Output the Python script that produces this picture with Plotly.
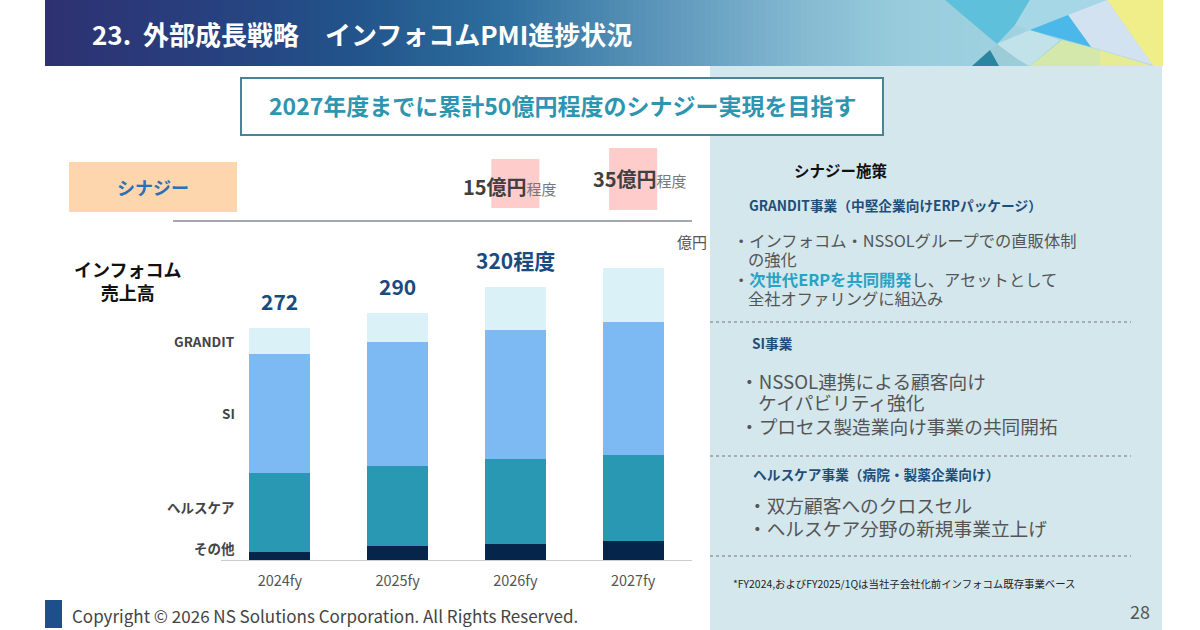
import plotly.graph_objects as go

# data
years = ["2024fy", "2025fy", "2026fy", "2027fy"]
other = [9, 17, 19, 22]
healthcare = [93, 93, 100, 101]
si = [140, 146, 151, 156]
grandit = [30, 34, 50, 64]
total_labels = ["272", "290", "320程度", ""]
synergy_vals = [None, None, "15", "35"]
segment_names = ["その他", "ヘルスケア", "SI", "GRANDIT"]

FONT = "Noto Sans CJK JP"
W, H = 1200, 630


def px(x):
    return x / W


def py(y):
    return 1 - y / H


fig = go.Figure()
colors = ["#05264A", "#2898B3", "#7DBAF4", "#DAF1F7"]
for name, vals, c in zip(segment_names, [other, healthcare, si, grandit], colors):
    fig.add_trace(go.Bar(x=years, y=vals, name=name, marker_color=c,
                         marker_line_width=0, hoverinfo="y+name"))

shapes = []
ann = []


def note(t, x, y, size, color, xanchor="center", xref="paper", yref="paper", **kw):
    ann.append(dict(text=t, x=x, y=y, xref=xref, yref=yref, xanchor=xanchor, yanchor="middle",
                    showarrow=False, font=dict(family=FONT, size=size, color=color), **kw))


# header gradient
stops = [(45, (46, 49, 113)), (200, (40, 63, 126)), (350, (34, 83, 138)),
         (500, (45, 110, 158)), (650, (89, 147, 184)), (800, (132, 185, 209)),
         (900, (152, 204, 220)), (1163, (170, 218, 230))]


def grad(x):
    for (x0, c0), (x1, c1) in zip(stops[:-1], stops[1:]):
        if x0 <= x <= x1:
            t = (x - x0) / (x1 - x0)
            return "rgb(%d,%d,%d)" % tuple(round(a + (b - a) * t) for a, b in zip(c0, c1))
    return "rgb(170,218,230)"


for x in range(45, 1163, 6):
    shapes.append(dict(type="rect", xref="paper", yref="paper", x0=px(x), x1=px(min(x + 7, 1163)),
                       y0=py(66), y1=py(0), fillcolor=grad(x + 3), line_width=0, layer="below"))


def poly(pts, color, opacity=1):
    path = "M " + " L ".join("%f,%f" % (px(a), py(b)) for a, b in pts) + " Z"
    shapes.append(dict(type="path", xref="paper", yref="paper", path=path,
                       fillcolor=color, line_width=0, opacity=opacity, layer="below"))


# header decoration on the right
poly([(945, 0), (1030, 0), (1015, 25), (997, 44)], "#5FC0DC")
poly([(1030, 0), (1107, 0), (1030, 30), (1015, 25)], "#A6D7E6")
poly([(997, 44), (1030, 30), (1060, 40), (1030, 66), (1010, 55)], "#C2E2EA")
poly([(1107, 0), (1163, 0), (1163, 66), (1153, 66)], "#EFEE88")
poly([(1030, 66), (1062, 40), (1100, 50), (1100, 66)], "#D3E8AA")
poly([(1100, 50), (1153, 66), (1100, 66)], "#E6EC96")
poly([(1068, 15), (1107, 0), (1153, 65), (1091, 47)], "#D2E2F0")
poly([(1030, 30), (1068, 15), (1091, 47)], "#4AB8E8")
poly([(972, 66), (997, 44), (1027, 66)], "#9CCCD8")
poly([(972, 66), (990, 50), (999, 66)], "#2A86A0")

note("<b>23.  外部成長戦略　インフォコムPMI進捗状況</b>", px(90), py(33), 26, "white", "left")

# right panel
shapes.append(dict(type="rect", xref="paper", yref="paper", x0=px(710), x1=px(1162),
                   y0=0, y1=py(66), fillcolor="#D4E7ED", line_width=0, layer="below"))
for yy in [322, 456, 556]:
    shapes.append(dict(type="line", xref="paper", yref="paper", x0=px(710), x1=px(1131),
                       y0=py(yy), y1=py(yy), line=dict(color="#777777", width=1, dash="dot")))

# headline box
shapes.append(dict(type="rect", xref="paper", yref="paper", x0=px(241), x1=px(883),
                   y0=py(135), y1=py(78), fillcolor="white",
                   line=dict(color="#4B8396", width=2)))
note("<b>2027年度までに累計50億円程度のシナジー実現を目指す</b>", px(562), py(105), 23, "#2E95AF")

# synergy row
shapes.append(dict(type="rect", xref="paper", yref="paper", x0=px(69), x1=px(237),
                   y0=py(212), y1=py(162), fillcolor="#FED6AE", line_width=0, layer="below"))
note("<b>シナジー</b>", px(153), py(187), 18, "#2F6FB5")
shapes.append(dict(type="line", xref="paper", yref="paper", x0=px(173), x1=px(692),
                   y0=py(221), y1=py(221), line=dict(color="#A3A7B0", width=2)))
pink_box = {"15": (159, 208, -5, 186), "35": (148, 210, 7, 178)}
for i, v in enumerate(synergy_vals):
    if v is None:
        continue
    top, bot, dx, ty = pink_box[v]
    shapes.append(dict(type="rect", xref="x", yref="paper", x0=i - 0.204, x1=i + 0.204,
                       y0=py(bot), y1=py(top), fillcolor="#FFCCCC", line_width=0, layer="below"))
    note("<b>%s億円</b><span style='font-size:15px;color:#777777'>程度</span>" % v,
         years[i], py(ty), 20, "#404040", xref="x", xshift=dx)

note("億円", px(692), py(242), 15, "#555555")
note("<b>インフォコム</b><br><b>売上高</b>", px(127), py(280), 18, "#111111", align="center")

# totals above bars
totals = [a + b + c + d for a, b, c, d in zip(other, healthcare, si, grandit)]
for yr, t, lab in zip(years, totals, total_labels):
    if lab:
        note("<b>%s</b>" % lab, yr, t, 21, "#1B4B7E", xref="x", yref="y", yshift=27)

# segment labels at left, level with first bar's segments
first = [other[0], healthcare[0], si[0], grandit[0]]
cum = 0
shifts = [8, 6, 0, 0]
for name, v, s in zip(segment_names, first, shifts):
    mid = cum + v / 2
    cum += v
    note("<b>%s</b>" % name, px(237), mid, 13.5, "#444444", "right", yref="y", yshift=s)

# right panel text
NAVY = "#1F4E79"
GRAY = "#555555"


def txt(t, x, y, size, color, bold=False):
    if bold:
        t = "<b>%s</b>" % t
    note(t, px(x), py(y), size, color, "left")


txt("シナジー施策", 792, 170, 15.5, "#111111", True)
txt("GRANDIT事業（中堅企業向けERPパッケージ）", 747, 205, 13.7, NAVY, True)
txt("・インフォコム・NSSOLグループでの直販体制", 731, 240, 16.3, GRAY)
txt("の強化", 746, 259, 16.3, GRAY)
txt("・<b><span style='color:#29A3C4'>次世代ERPを共同開発</span></b>し、アセットとして", 731, 279, 16.3, GRAY)
txt("全社オファリングに組込み", 746, 298, 16.3, GRAY)
txt("SI事業", 750, 343, 13.7, NAVY, True)
txt("・NSSOL連携による顧客向け", 738, 380, 18.7, GRAY)
txt("ケイパビリティ強化", 756, 402, 18.7, GRAY)
txt("・プロセス製造業向け事業の共同開拓", 738, 425, 18.7, GRAY)
txt("ヘルスケア事業（病院・製薬企業向け）", 751, 474, 13.7, NAVY, True)
txt("・双方顧客へのクロスセル", 746, 504, 18.7, GRAY)
txt("・ヘルスケア分野の新規事業立上げ", 746, 527, 18.7, GRAY)
txt("*FY2024,およびFY2025/1Qは当社子会社化前インフォコム既存事業ベース", 731, 583, 10.4, "#222222")

# footer
shapes.append(dict(type="rect", xref="paper", yref="paper", x0=px(45), x1=px(62),
                   y0=py(628), y1=py(600), fillcolor="#1F4E8C", line_width=0))
txt("Copyright © 2026 NS Solutions Corporation. All Rights Reserved.", 70, 615, 17, "#444444")
note("28", px(1152), py(611), 18, "#555555", "right")

fig.update_layout(
    width=W, height=H, margin=dict(l=0, r=0, t=0, b=0),
    paper_bgcolor="white", plot_bgcolor="rgba(0,0,0,0)",
    barmode="stack", bargap=0.48, showlegend=False,
    font=dict(family=FONT),
    shapes=shapes, annotations=ann,
    xaxis=dict(domain=[px(221), px(692)], range=[-0.5, 3.5], showline=True, linecolor="#CCCCCC",
               linewidth=1, ticks="", ticklabelstandoff=8,
               tickfont=dict(family=FONT, size=14.5, color="#555555"), fixedrange=True),
    yaxis=dict(domain=[py(560), py(560 - 380 * 0.852)], range=[0, 380], visible=False,
               fixedrange=True),
)

fig.write_html("out.html", config={"displayModeBar": False},
               post_script="document.body.style.margin='0';")
